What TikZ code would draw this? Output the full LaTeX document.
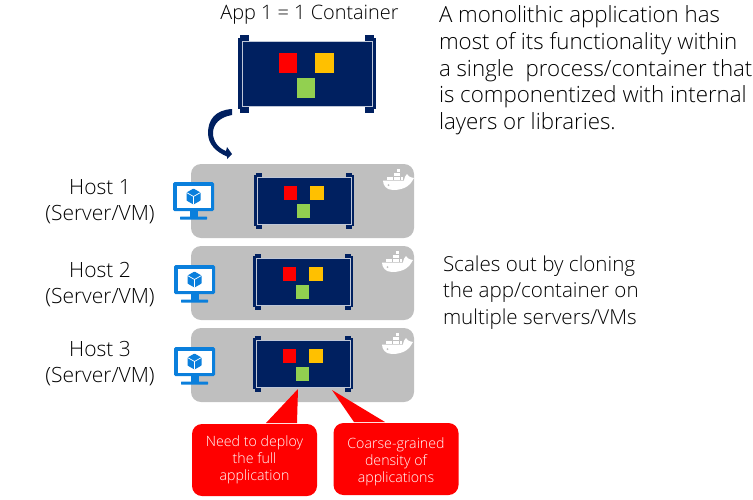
\documentclass[tikz,border=0pt]{standalone}
\usepackage{fontspec}
\setmainfont{Open Sans Light}
\usetikzlibrary{arrows.meta,positioning}
\definecolor{navy}{HTML}{002060}
\definecolor{hostgray}{HTML}{BFBFBF}
\definecolor{screenblue}{HTML}{0A7FDC}
\definecolor{appred}{HTML}{FF0000}
\definecolor{appamber}{HTML}{FFC000}
\definecolor{appgreen}{HTML}{92D050}
\tikzset{
    every node/.style={inner sep=0pt, outer sep=0pt},
    hostbox/.style={
                fill=hostgray,
                rounded corners=10pt,
                minimum width=223pt,
                minimum height=74pt
            },
    hostlabel/.style={
                align=center,
                font=\fontsize{21}{25.5}\selectfont
            },
    prose/.style={
                anchor=north west,
                align=left,
                font=\fontsize{20.6}{26.5}\selectfont
            },
    redbox/.style={
                fill=appred,
                text=white,
                rounded corners=10pt,
                minimum width=125pt,
                minimum height=72pt,
                align=center,
                font=\fontsize{14.2}{17}\selectfont
            },
    redtail/.style={fill=appred},
    container/.pic={
            % brackets
            \fill[navy] (-69.5,-36) rectangle (-65.5,35);
            \fill[navy] (65.5,-36) rectangle (68.5,35);
            \fill[navy] (-67.5,-39) rectangle (-58.5,-33);
            \fill[navy] (-67.5,33) rectangle (-58.5,39);
            \fill[navy] (57.5,-39) rectangle (66.5,-33);
            \fill[navy] (57.5,33) rectangle (66.5,39);
            % body
            \filldraw[fill=navy, draw=white!75!navy, line width=.8pt] (-65,-32.5) rectangle (65,32.5);
            % components
            \fill[appred] (-28.5,-21) rectangle (-10.5,-1);
            \fill[appamber] (7.5,-21) rectangle (26.5,-1);
            \fill[appgreen] (-10.5,4) rectangle (7.5,24);
        },
    screen/.pic={
            \fill[screenblue, rounded corners=1.5pt] (-20.5,-14.5) rectangle (20.5,14.5);
            \fill[white] (-17,-11) rectangle (17,11);
            \fill[screenblue] (-4,14) rectangle (4,20);
            \fill[screenblue, rounded corners=.5pt] (-13.5,20) rectangle (13.5,23);
            % cube
            \fill[screenblue, rounded corners=.5pt] (0,-8) -- (7,-4) -- (7,4) -- (0,8) -- (-7,4) -- (-7,-4) -- cycle;
            \draw[white, line width=.7pt] (-7,-4) -- (0,0) -- (7,-4) (0,0) -- (0,8);
        },
    whale/.pic={
            \fill[white] (-15,1.5) -- (6,1.5) .. controls (6.5,-2) and (8,-4) .. (9,-5)
                .. controls (10,-3) and (11,-2) .. (16,-1)
                .. controls (13,5) and (8,11) .. (-5,11)
                .. controls (-12,11) and (-15,6) .. (-15,1.5) -- cycle;
            \foreach \col in {0,...,4}
                \fill[white] (-11+3.4*\col,-2) rectangle ++(2.7,2.7);
            \foreach \col in {2,3}
                \fill[white] (-11+3.4*\col,-5.7) rectangle ++(2.7,2.7);
            \fill[white] (-.8,-10) rectangle ++(2.7,3);
            \fill[hostgray] (-9.5,6) circle (1pt);
        }
}
\begin{document}
\begin{tikzpicture}[x=1pt,y=-1pt]
  \useasboundingbox (0,0) rectangle (753,499);
  % Application
  \node[hostlabel, font=\fontsize{19.9}{25}\selectfont] (apptitle) at (309.5,15) {App 1 = 1 Container};
  \pic (app) at (307.5,74) {container};
  \node[prose, font=\fontsize{22.3}{26.6}\selectfont] (monotext) at (439,6) {A monolithic application has\\most of its functionality within\\a single\ \ process/container that\\is componentized with internal\\layers or libraries.};
  % Hosts
  \node[hostbox] (hostone) at (302.5,201) {};
  \node[hostbox, below=8pt of hostone] (hosttwo) {};
  \node[hostbox, below=8pt of hosttwo] (hostthree) {};
  \node[hostlabel] (labelone) at (100,201.5) {Host 1\\(Server/VM)};
  \node[hostlabel] (labeltwo) at (100,284.5) {Host 2\\(Server/VM)};
  \node[hostlabel] (labelthree) at (100,363.5) {Host 3\\(Server/VM)};
  \pic[scale=.72] (appone) at ([xshift=2pt]hostone.center) {container};
  \pic[scale=.72] (apptwo) at ([xshift=1pt,yshift=1pt]hosttwo.center) {container};
  \pic[scale=.72] (appthree) at ([xshift=1pt,yshift=1pt]hostthree.center) {container};
  \pic (screenone) at (193.5,196.5) {screen};
  \pic (screentwo) at (194.5,279.5) {screen};
  \pic (screenthree) at (194.5,361.5) {screen};
  \pic (whaleone) at ([xshift=-16pt,yshift=-15pt]hostone.north east) {whale};
  \pic (whaletwo) at ([xshift=-17pt,yshift=-15pt]hosttwo.north east) {whale};
  \pic (whalethree) at ([xshift=-17pt,yshift=-15pt]hostthree.north east) {whale};
  % Deploy arrow
  \coordinate (deploystart) at (232,109);
  \coordinate (deployend) at (232,154);
  \fill[navy] (deploystart) .. controls (215,110) and (208,120) .. (208,133)
      .. controls (208,144) and (216,152) .. (227,156.5) -- (227,159) -- (deployend) -- (227,147) -- (226,151)
      .. controls (218,148) and (213,141) .. (213,133)
      .. controls (213,124) and (220,117) .. (232,115) -- cycle;
  \node[prose] (scaletext) at (443,255.5) {Scales out by cloning\\the app/container on\\multiple servers/VMs};
  % Callouts
  \coordinate (tipneed) at (298,389);
  \coordinate (tipcoarse) at (332,390);
  \node[redbox] (needbox) at (254.5,460) {Need to deploy\\the full\\application};
  \node[redbox] (coarsebox) at (396,459) {\rule{0pt}{17pt}Coarse-grained\\density of\\applications};
  \fill[redtail] ([xshift=11.5pt,yshift=1pt]needbox.north) -- (tipneed) -- ([xshift=42.5pt,yshift=1pt]needbox.north) -- cycle;
  \fill[redtail] ([xshift=-42pt,yshift=1pt]coarsebox.north) -- (tipcoarse) -- ([xshift=-11pt,yshift=1pt]coarsebox.north) -- cycle;
\end{tikzpicture}
\end{document}
